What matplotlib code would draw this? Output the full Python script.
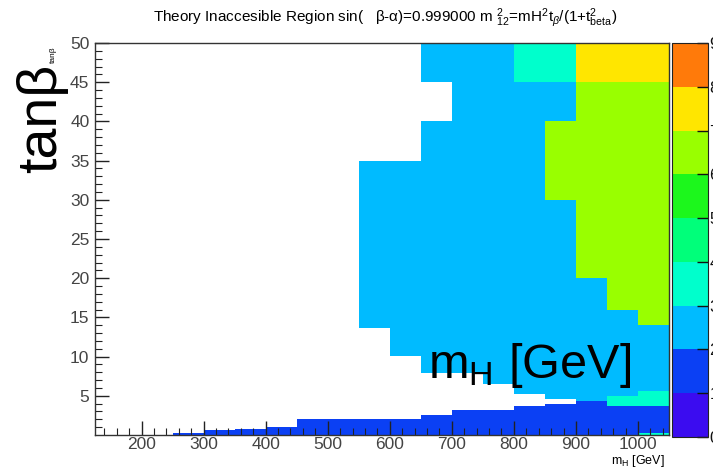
import numpy as np
import matplotlib.pyplot as plt
from matplotlib.colors import ListedColormap, BoundaryNorm

plt.rcParams['font.family'] = ['Liberation Sans', 'DejaVu Sans']
plt.rcParams['mathtext.fontset'] = 'custom'
plt.rcParams['mathtext.rm'] = 'Liberation Sans'
plt.rcParams['mathtext.it'] = 'Liberation Sans:italic'

# m_H bin left edges (50 GeV wide)
mh_bins = [150, 200, 250, 300, 350, 400, 450, 500, 550, 600,
           650, 700, 750, 800, 850, 900, 950, 1000]
mh_width = 50

# for each m_H column: upper edge in tanb of each segment and its content
# (content 0 = empty cell, not drawn)
seg_tops = [
    [50],
    [50],
    [0.3, 50],
    [0.6, 50],
    [0.8, 50],
    [1.0, 50],
    [2.0, 50],
    [2.0, 50],
    [2.0, 13.6, 35, 50],
    [2.0, 10.1, 35, 50],
    [2.6, 7.9, 40, 45, 50],
    [3.2, 7.9, 50],
    [3.2, 6.5, 50],
    [3.7, 5.2, 45, 50],
    [4.0, 4.6, 30, 40, 45, 50],
    [4.3, 20, 45, 50],
    [3.7, 5.0, 16, 45, 50],
    [0.3, 3.7, 5.6, 14, 45, 50],
]
seg_levels = [
    [0],
    [0],
    [1, 0],
    [1, 0],
    [1, 0],
    [1, 0],
    [1, 0],
    [1, 0],
    [1, 0, 2, 0],
    [1, 0, 2, 0],
    [1, 0, 2, 0, 2],
    [1, 0, 2],
    [1, 0, 2],
    [1, 0, 2, 3],
    [1, 0, 2, 6, 2, 3],
    [1, 2, 6, 7],
    [1, 3, 2, 6, 7],
    [3, 1, 3, 2, 6, 7],
]

palette = ['#3b0cf0', '#0b40f4', '#00bbff', '#00ffcc', '#00ff7a',
           '#1cf71c', '#99ff00', '#ffe600', '#ff7a0a']
levels = [0, 1, 2, 3, 4, 5, 6, 7, 8, 9]

# build the 2D histogram grid
x_edges = np.array(mh_bins + [mh_bins[-1] + mh_width], dtype=float)
y_edges = np.array(sorted(set([0.0] + [t for col in seg_tops for t in col])))
y_mid = 0.5 * (y_edges[:-1] + y_edges[1:])
z = np.zeros((len(y_mid), len(mh_bins)))
for i in range(len(mh_bins)):
    lo = 0.0
    for top, lev in zip(seg_tops[i], seg_levels[i]):
        z[(y_mid > lo) & (y_mid < top), i] = lev
        lo = top
z = np.ma.masked_where(z <= 0, z)

cmap = ListedColormap(palette)
norm = BoundaryNorm(levels, cmap.N)

fig = plt.figure(figsize=(7.13, 4.69), dpi=100)
ax = fig.add_axes([95 / 713, 34 / 469, 574 / 713, 392 / 469])
cax = fig.add_axes([672 / 713, 32 / 469, 36 / 713, 394 / 469])

mesh = ax.pcolormesh(x_edges, y_edges, z, cmap=cmap, norm=norm)
ax.set_xlim(125, 1050)
ax.set_ylim(0, 50)

ax.set_xticks(np.arange(200, 1001, 100))
ax.set_xticks(np.arange(140, 1050, 20), minor=True)
ax.set_yticks(np.arange(5, 51, 5))
ax.set_yticks(np.arange(1, 50, 1), minor=True)
ax.tick_params(which='both', direction='in', colors='#222222',
               labelcolor='#444444', labelsize=12.5)
ax.tick_params(which='major', length=10, width=1)
ax.tick_params(which='minor', length=5, width=0.8)
ax.tick_params(axis='x', pad=1.5)
ax.tick_params(axis='y', pad=4)
for sp in ax.spines.values():
    sp.set_color('#333333')
    sp.set_linewidth(1)

cb = fig.colorbar(mesh, cax=cax, ticks=levels)
cb.outline.set_edgecolor('#222222')
cax.tick_params(direction='in', length=8, width=1, colors='#111111',
                labelsize=12, pad=1)

fig.text(385 / 713, 1 - 18 / 469,
         r'Theory Inaccesible Region sin(   β-α)=0.999000 m $^{2}_{12}$=mH$^{2}$t$_{β}$/(1+t$^{2}_{\rm beta}$)',
         ha='center', va='center', fontsize=11)
fig.text(665 / 713, 1 - 461 / 469, r'm$_{\rm H}$ [GeV]',
         ha='right', va='center', fontsize=9)
fig.text(53 / 713, 1 - 55 / 469, 'tanβ', rotation=90,
         ha='center', va='center', fontsize=6)

# big overlaid labels
fig.text(42 / 713, 1 - 118 / 469, 'tanβ', rotation=90,
         ha='center', va='center', fontsize=40)
fig.text(428 / 713, 1 - 378 / 469, r'm$_{\rm H}$ [GeV]',
         ha='left', va='baseline', fontsize=35)

fig.savefig('out.png', dpi=100)
